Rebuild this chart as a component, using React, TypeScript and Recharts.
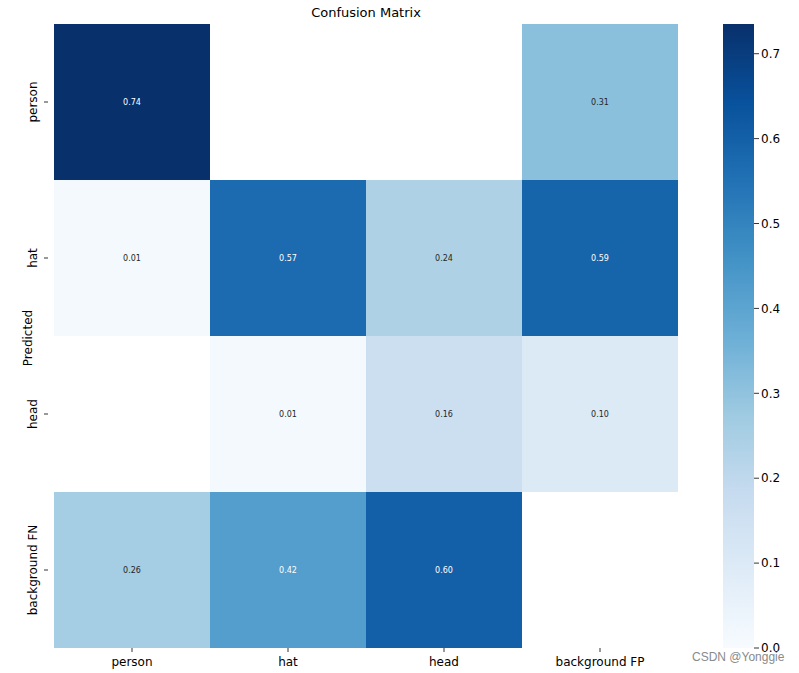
import { BarChart, Bar, XAxis, YAxis, Cell, LabelList } from "recharts";

// true class along x, predicted along y
const trueLabels = ["person", "hat", "head", "background FP"];
const predLabels = ["person", "hat", "head", "background FN"];

// rows = predicted, columns = true (null = blank cell)
const rowPerson = [0.74, null, null, 0.31];
const rowHat = [0.01, 0.57, 0.24, 0.59];
const rowHead = [null, 0.01, 0.16, 0.1];
const rowBgFN = [0.26, 0.42, 0.6, null];
const matrix = [rowPerson, rowHat, rowHead, rowBgFN];

const cbTicks = [0, 0.1, 0.2, 0.3, 0.4, 0.5, 0.6, 0.7];
const VMAX = 0.735;

const BLUES = ["#f7fbff", "#deebf7", "#c6dbef", "#9ecae1", "#6baed6", "#4292c6", "#2171b5", "#08519c", "#08306b"];
const FONT = "DejaVu Sans, sans-serif";

function hex(c: string) {
  return [1, 3, 5].map((i) => parseInt(c.slice(i, i + 2), 16));
}

function blues(v: number) {
  const t = Math.max(0, Math.min(1, v / VMAX)) * (BLUES.length - 1);
  const i = Math.min(Math.floor(t), BLUES.length - 2);
  const f = t - i;
  const a = hex(BLUES[i]);
  const b = hex(BLUES[i + 1]);
  const m = a.map((x, k) => Math.round(x + (b[k] - x) * f));
  return `rgb(${m[0]},${m[1]},${m[2]})`;
}

// one stacked segment per predicted row, each of height 1
const rows = trueLabels.map((name) => {
  const d: any = { name };
  predLabels.forEach((_, r) => (d["r" + r] = 1));
  return d;
});

const YTick = (props: any) => {
  const { x, y, payload } = props;
  const label = predLabels[Math.floor(payload.value)];
  return (
    <g>
      <line x1={x - 4} x2={x} y1={y} y2={y} stroke="#000" strokeWidth={0.8} />
      <text
        x={x - 11}
        y={y}
        transform={`rotate(-90 ${x - 11} ${y})`}
        textAnchor="middle"
        fontSize={12}
        fontFamily={FONT}
        fill="#000"
      >
        {label}
      </text>
    </g>
  );
};

const XTick = (props: any) => {
  const { x, y, payload } = props;
  return (
    <g>
      <line x1={x} x2={x} y1={y - 8} y2={y - 4} stroke="#000" strokeWidth={0.8} />
      <text x={x} y={y + 10} textAnchor="middle" fontSize={12} fontFamily={FONT} fill="#000">
        {payload.value}
      </text>
    </g>
  );
};

const makeLabel = (r: number) => (props: any) => {
  const { x, y, width, height, index } = props;
  const v = matrix[r][index];
  if (v == null) return null;
  return (
    <text
      x={x + width / 2}
      y={y + height / 2}
      textAnchor="middle"
      dominantBaseline="central"
      fontSize={8}
      fontFamily={FONT}
      fill={v >= 0.4 ? "#fff" : "#262626"}
    >
      {v.toFixed(2)}
    </text>
  );
};

export default function App() {
  return (
    <div style={{ position: "absolute", left: 0, top: 0, width: 799, height: 673, background: "#fff" }}>
      <div style={{ position: "absolute", left: 0, top: 0 }}>
        <BarChart
          width={799}
          height={673}
          data={rows}
          margin={{ top: 24, right: 121, bottom: 0, left: 0 }}
          barCategoryGap={0}
        >
          <XAxis dataKey="name" height={25} axisLine={false} tickLine={false} tick={<XTick />} interval={0} />
          <YAxis
            type="number"
            domain={[0, 4]}
            reversed
            ticks={[0.5, 1.5, 2.5, 3.5]}
            width={54}
            axisLine={false}
            tickLine={false}
            tickMargin={0}
            tick={<YTick />}
            allowDataOverflow
          />
          {predLabels.map((_, r) => (
            <Bar key={r} dataKey={"r" + r} stackId="m" isAnimationActive={false}>
              {rows.map((_, c) => {
                const v = matrix[r][c];
                return <Cell key={c} fill={v == null ? "#ffffff" : blues(v)} />;
              })}
              <LabelList content={makeLabel(r)} />
            </Bar>
          ))}
        </BarChart>
      </div>
      <div style={{ position: "absolute", left: 0, top: 0, pointerEvents: "none" }}>
        <BarChart
          width={799}
          height={673}
          data={[{ name: "cb", v: VMAX }]}
          margin={{ top: 24, right: 0, bottom: 25, left: 723 }}
          barCategoryGap={0}
        >
          <defs>
            <linearGradient id="cbGrad" x1="0" y1="1" x2="0" y2="0">
              {BLUES.map((c, i) => (
                <stop key={i} offset={i / (BLUES.length - 1)} stopColor={c} />
              ))}
            </linearGradient>
          </defs>
          <XAxis dataKey="name" hide />
          <YAxis
            orientation="right"
            type="number"
            domain={[0, VMAX]}
            ticks={cbTicks}
            width={45}
            axisLine={false}
            tickSize={5}
            tickLine={{ stroke: "#000", strokeWidth: 0.8 }}
            tickFormatter={(v: number) => v.toFixed(1)}
            tick={{ fontSize: 12, fontFamily: FONT, fill: "#000" }}
          />
          <Bar dataKey="v" fill="url(#cbGrad)" isAnimationActive={false} />
        </BarChart>
      </div>
      <div
        style={{
          position: "absolute",
          left: 0,
          width: 732,
          top: 5,
          textAlign: "center",
          fontFamily: FONT,
          fontSize: 13,
          color: "#000",
        }}
      >
        Confusion Matrix
      </div>
      <div
        style={{
          position: "absolute",
          left: 28,
          top: 338,
          transform: "translate(-50%, -50%) rotate(-90deg)",
          fontFamily: FONT,
          fontSize: 12,
          whiteSpace: "nowrap",
          color: "#000",
        }}
      >
        Predicted
      </div>
      <div
        style={{
          position: "absolute",
          left: 692,
          top: 650,
          fontFamily: "Liberation Sans, Arial, sans-serif",
          fontSize: 12,
          color: "#8a8a8a",
          whiteSpace: "nowrap",
        }}
      >
        CSDN @Yonggie
      </div>
    </div>
  );
}
